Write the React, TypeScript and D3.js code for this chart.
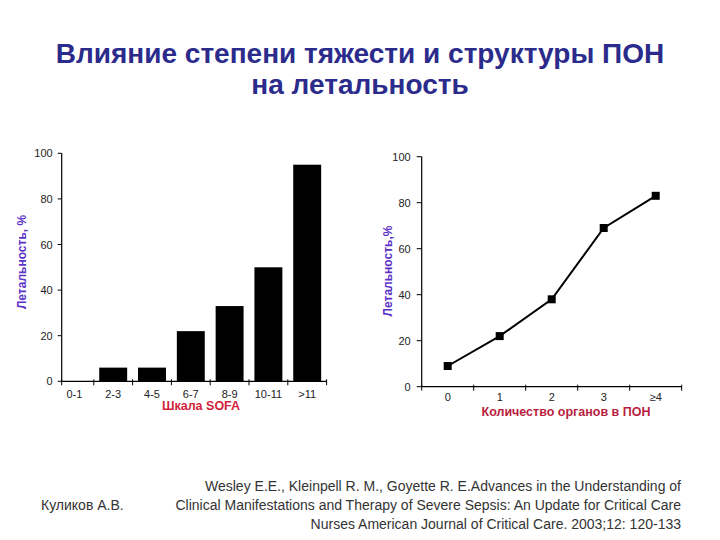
import React from "react";
import * as d3 from "d3";

const titleLines = ["Влияние степени тяжести и структуры ПОН", "на летальность"];
const sofaCategories = ["0-1", "2-3", "4-5", "6-7", "8-9", "10-11", ">11"];
const sofaMortality = [0, 6, 6, 22, 33, 50, 95];
const organCategories = ["0", "1", "2", "3", "≥4"];
const organMortality = [9, 22, 38, 69, 83];
const yTicks = [0, 20, 40, 60, 80, 100];
const leftYLabel = "Летальность, %";
const rightYLabel = "Летальность,%";
const leftXLabel = "Шкала SOFA";
const rightXLabel = "Количество органов в ПОН";
const authorText = "Куликов А.В.";
const citationLines = [
  "Wesley E.E., Kleinpell R. M., Goyette R. E.Advances in the Understanding of",
  "Clinical Manifestations and Therapy of Severe Sepsis: An Update for Critical Care",
  "Nurses American Journal of Critical Care. 2003;12: 120-133",
];

const FONT = "'Liberation Sans', Arial, sans-serif";

export default function App() {
  // Left chart (bars)
  const lAxisX = 61.7;
  const lY = d3.scaleLinear().domain([0, 100]).range([381.3, 153.3]);
  const lX = d3
    .scaleBand<string>()
    .domain(sofaCategories)
    .range([55, 326.6])
    .paddingInner(0.28)
    .paddingOuter(0.14);
  const lStep = lX.step();
  const lBoundaries = [lAxisX, ...sofaCategories.slice(1).map((c) => (lX(c) as number) - (lStep - lX.bandwidth()) / 2), 326.6];

  // Right chart (line)
  const rAxisX = 421.7;
  const rY = d3.scaleLinear().domain([0, 100]).range([386.7, 156.7]);
  const rX = d3.scaleBand<string>().domain(organCategories).range([rAxisX, 681.7]);
  const rBoundaries = [rAxisX, ...organCategories.map((c) => (rX(c) as number) + rX.step())];
  const pts: [number, number][] = organCategories.map((c, i) => [
    (rX(c) as number) + rX.bandwidth() / 2,
    rY(organMortality[i]),
  ]);
  const line = d3.line()(pts) as string;

  return (
    <svg width={720} height={540} style={{ position: "absolute", left: 0, top: 0, background: "#fff" }}>
      <rect x={0} y={0} width={720} height={540} fill="#fff" />
      {/* Title */}
      {titleLines.map((t, i) => (
        <text
          key={i}
          x={360}
          y={63 + i * 31}
          textAnchor="middle"
          fontFamily={FONT}
          fontWeight="bold"
          fontSize={28}
          fill="#2b2b8c"
        >
          {t}
        </text>
      ))}

      {/* Left chart */}
      <g fontFamily={FONT}>
        {sofaCategories.map((c, i) => (
          <rect
            key={c}
            x={lX(c) as number}
            y={lY(sofaMortality[i])}
            width={lX.bandwidth()}
            height={lY(0) - lY(sofaMortality[i])}
            fill="#000"
          />
        ))}
        <line x1={lAxisX} x2={lAxisX} y1={lY(100)} y2={lY(0)} stroke="#000" strokeWidth={1.2} />
        <line x1={lAxisX} x2={326.6} y1={lY(0)} y2={lY(0)} stroke="#000" strokeWidth={1.2} />
        {yTicks.map((t) => (
          <g key={t}>
            <line x1={lAxisX - 4} x2={lAxisX} y1={lY(t)} y2={lY(t)} stroke="#000" />
            <text x={lAxisX - 9} y={lY(t) + 4} textAnchor="end" fontSize={11} fill="#222">
              {t}
            </text>
          </g>
        ))}
        {lBoundaries.map((b, i) => (
          <line key={i} x1={b} x2={b} y1={lY(0) - 2} y2={lY(0) + 4} stroke="#000" />
        ))}
        {sofaCategories.map((c) => (
          <text
            key={c}
            x={(lX(c) as number) + lX.bandwidth() / 2}
            y={398}
            textAnchor="middle"
            fontSize={11}
            fill="#222"
          >
            {c}
          </text>
        ))}
        <text x={201} y={410} textAnchor="middle" fontSize={12.5} fontWeight="bold" fill="#d21f3c">
          {leftXLabel}
        </text>
        <text
          transform={`translate(26,262) rotate(-90)`}
          textAnchor="middle"
          fontSize={12}
          fontWeight="bold"
          fill="#5b32c8"
        >
          {leftYLabel}
        </text>
      </g>

      {/* Right chart */}
      <g fontFamily={FONT}>
        <line x1={rAxisX} x2={rAxisX} y1={rY(100)} y2={rY(0)} stroke="#000" strokeWidth={1.2} />
        <line x1={rAxisX} x2={681.7} y1={rY(0)} y2={rY(0)} stroke="#000" strokeWidth={1.2} />
        {yTicks.map((t) => (
          <g key={t}>
            <line x1={rAxisX - 5} x2={rAxisX} y1={rY(t)} y2={rY(t)} stroke="#000" />
            <text x={rAxisX - 11} y={rY(t) + 4} textAnchor="end" fontSize={11} fill="#222">
              {t}
            </text>
          </g>
        ))}
        {rBoundaries.map((b, i) => (
          <line key={i} x1={b} x2={b} y1={rY(0) - 2} y2={rY(0) + 4} stroke="#000" />
        ))}
        {organCategories.map((c) => (
          <text
            key={c}
            x={(rX(c) as number) + rX.bandwidth() / 2}
            y={401}
            textAnchor="middle"
            fontSize={11}
            fill="#222"
          >
            {c}
          </text>
        ))}
        <path d={line} fill="none" stroke="#000" strokeWidth={2} />
        {pts.map(([x, y], i) => (
          <rect key={i} x={x - 4} y={y - 4} width={8} height={8} fill="#000" />
        ))}
        <text x={566} y={416} textAnchor="middle" fontSize={12.5} fontWeight="bold" fill="#b81e3e">
          {rightXLabel}
        </text>
        <text
          transform={`translate(392,271) rotate(-90)`}
          textAnchor="middle"
          fontSize={12}
          fontWeight="bold"
          fill="#5b32c8"
        >
          {rightYLabel}
        </text>
      </g>

      {/* Footer */}
      <g fontFamily={FONT} fontSize={14} fill="#333">
        <text x={41} y={510}>
          {authorText}
        </text>
        {citationLines.map((t, i) => (
          <text key={i} x={681} y={491 + i * 19} textAnchor="end">
            {t}
          </text>
        ))}
      </g>
    </svg>
  );
}
